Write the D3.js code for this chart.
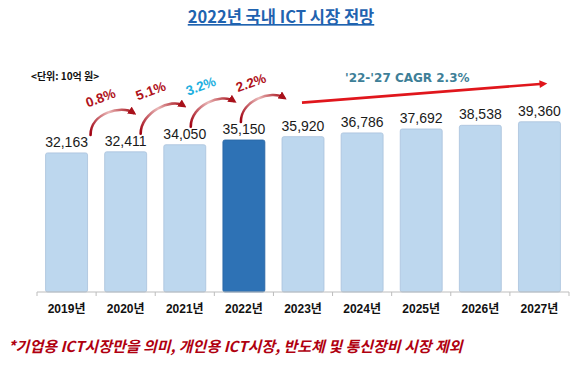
<!DOCTYPE html>
<html>
<head>
<meta charset="utf-8">
<script src="https://cdn.jsdelivr.net/npm/d3@7"></script>
<style>
  body { margin: 0; background: #fff; }
  svg { display: block; }
</style>
</head>
<body>
<div id="chart"></div>
<script>
// chart data
var years = ["2019년", "2020년", "2021년", "2022년", "2023년", "2024년", "2025년", "2026년", "2027년"];
var values = [32163, 32411, 34050, 35150, 35920, 36786, 37692, 38538, 39360];
var growth = ["0.8%", "5.1%", "3.2%", "2.2%"];
var growthColors = ["#b0121b", "#b0121b", "#1fb0e0", "#b0121b"];
var highlightYear = "2022년";
var cagrText = "'22-'27 CAGR 2.3%";

var width = 580, height = 367;
var kr = "'Noto Sans CJK KR', 'Noto Sans', sans-serif";
var num = "'Liberation Sans', Arial, sans-serif";

var svg = d3.select("#chart")
  .append("svg")
  .attr("width", width)
  .attr("height", height);

var defs = svg.append("defs");

var x = d3.scaleBand()
  .domain(years)
  .range([37, 569])
  .paddingInner(0.29)
  .paddingOuter(0.145);

var y = d3.scaleLinear()
  .domain([0, 40000])
  .range([292, 292 - 173]);

function mid(i) { return x(years[i]) + x.bandwidth() / 2; }

// title
svg.append("text")
  .attr("x", 281)
  .attr("y", 23)
  .attr("text-anchor", "middle")
  .style("font-family", kr)
  .style("font-weight", "bold")
  .style("font-size", "16.5px")
  .style("fill", "#1f63b0")
  .style("text-decoration", "underline")
  .text("2022년 국내 ICT 시장 전망");

// unit
svg.append("text")
  .attr("x", 31)
  .attr("y", 80)
  .style("font-family", kr)
  .style("font-weight", "bold")
  .style("font-size", "10px")
  .style("fill", "#111")
  .text("<단위: 10억 원>");

// bars
svg.append("g")
  .selectAll("rect")
  .data(values)
  .join("rect")
  .attr("x", function (d, i) { return x(years[i]); })
  .attr("y", function (d) { return y(d); })
  .attr("width", x.bandwidth())
  .attr("height", function (d) { return y(0) - y(d); })
  .attr("rx", 2)
  .attr("fill", function (d, i) { return years[i] === highlightYear ? "#2e72b5" : "#bdd7ee"; })
  .attr("stroke", function (d, i) { return years[i] === highlightYear ? "#2a66a3" : "#a9c2dc"; })
  .attr("stroke-width", 0.8);

// value labels
svg.append("g")
  .selectAll("text")
  .data(values)
  .join("text")
  .attr("x", function (d, i) { return mid(i); })
  .attr("y", function (d) { return y(d) - 6; })
  .attr("text-anchor", "middle")
  .style("font-family", num)
  .style("font-size", "14px")
  .style("fill", "#1a1a1a")
  .text(function (d) { return d3.format(",")(d); });

// axis: labels from d3 axis, line and boundary ticks drawn from the band scale
var gX = svg.append("g")
  .attr("transform", "translate(0," + y(0) + ")")
  .call(d3.axisBottom(x).tickSize(0).tickPadding(12));
gX.select(".domain").remove();
gX.selectAll("text")
  .style("font-family", num + ", " + kr)
  .style("font-weight", "bold")
  .style("font-size", "12px")
  .style("fill", "#111");

svg.append("line")
  .attr("x1", x.range()[0]).attr("x2", x.range()[1])
  .attr("y1", y(0)).attr("y2", y(0))
  .attr("stroke", "#bdbdbd")
  .attr("stroke-width", 1);

var bounds = years.map(function (d) { return x(d) - x.step() * x.paddingInner() / 2; });
bounds[0] = x.range()[0];
bounds.push(x.range()[1]);
svg.append("g")
  .selectAll("line")
  .data(bounds)
  .join("line")
  .attr("x1", function (d) { return d; })
  .attr("x2", function (d) { return d; })
  .attr("y1", y(0))
  .attr("y2", y(0) + 4)
  .attr("stroke", "#bdbdbd");

// curved growth arrows
defs.append("marker")
  .attr("id", "curvehead")
  .attr("viewBox", "0 0 10 10")
  .attr("refX", 6)
  .attr("refY", 5)
  .attr("markerWidth", 3.2)
  .attr("markerHeight", 3.2)
  .attr("orient", "auto")
  .append("path")
  .attr("d", "M0,0 L10,5 L0,10 z")
  .attr("fill", "#a8101a");

growth.forEach(function (g, i) {
  var sx = mid(i) + 24 - 9 * i;
  var sy = y(values[i]) - 18;
  var ex = sx + 43;
  var ey = y(values[i + 1]) - 39;

  var grad = defs.append("linearGradient")
    .attr("id", "arc" + i)
    .attr("gradientUnits", "userSpaceOnUse")
    .attr("x1", sx).attr("y1", sy)
    .attr("x2", ex).attr("y2", ey);
  grad.append("stop").attr("offset", "0%").attr("stop-color", "#a00010");
  grad.append("stop").attr("offset", "55%").attr("stop-color", "#eab8b8");
  grad.append("stop").attr("offset", "100%").attr("stop-color", "#a8101a");

  svg.append("path")
    .attr("d", "M" + sx + "," + sy +
      " C" + sx + "," + (sy - 22) + " " + (ex - 12) + "," + (ey - 8) + " " + ex + "," + ey)
    .attr("fill", "none")
    .attr("stroke", "url(#arc" + i + ")")
    .attr("stroke-width", 2.6)
    .attr("stroke-linecap", "round")
    .attr("marker-end", "url(#curvehead)");

  var lx = sx + 10;
  var ly = ey - 15;
  svg.append("text")
    .attr("transform", "translate(" + lx + "," + ly + ") rotate(-20)")
    .attr("text-anchor", "middle")
    .attr("dy", "0.35em")
    .style("font-family", num)
    .style("font-weight", "bold")
    .style("font-size", "13.5px")
    .style("fill", growthColors[i])
    .text(g);
});

// CAGR trend arrow
defs.append("marker")
  .attr("id", "bighead")
  .attr("viewBox", "0 0 10 10")
  .attr("refX", 5)
  .attr("refY", 5)
  .attr("markerWidth", 4)
  .attr("markerHeight", 3)
  .attr("orient", "auto")
  .append("path")
  .attr("d", "M0,0 L10,5 L0,10 z")
  .attr("fill", "#e0161c");

var last = values.length - 1;
svg.append("line")
  .attr("x1", mid(4) - 1)
  .attr("y1", y(values[4]) - 34)
  .attr("x2", mid(last) + 4)
  .attr("y2", y(values[last]) - 38)
  .attr("stroke", "#e0161c")
  .attr("stroke-width", 2.6)
  .attr("marker-end", "url(#bighead)");

svg.append("text")
  .attr("x", 345)
  .attr("y", 82)
  .style("font-family", "'DejaVu Sans', sans-serif")
  .style("font-weight", "bold")
  .style("font-size", "12px")
  .style("fill", "#3e7f98")
  .text(cagrText);

// footnote
svg.append("text")
  .attr("x", 8)
  .attr("y", 352)
  .style("font-family", kr)
  .style("font-weight", "bold")
  .style("font-style", "italic")
  .style("font-size", "15px")
  .style("fill", "#b00010")
  .text("*기업용 ICT시장만을 의미, 개인용 ICT시장, 반도체 및 통신장비 시장 제외");
</script>
</body>
</html>
